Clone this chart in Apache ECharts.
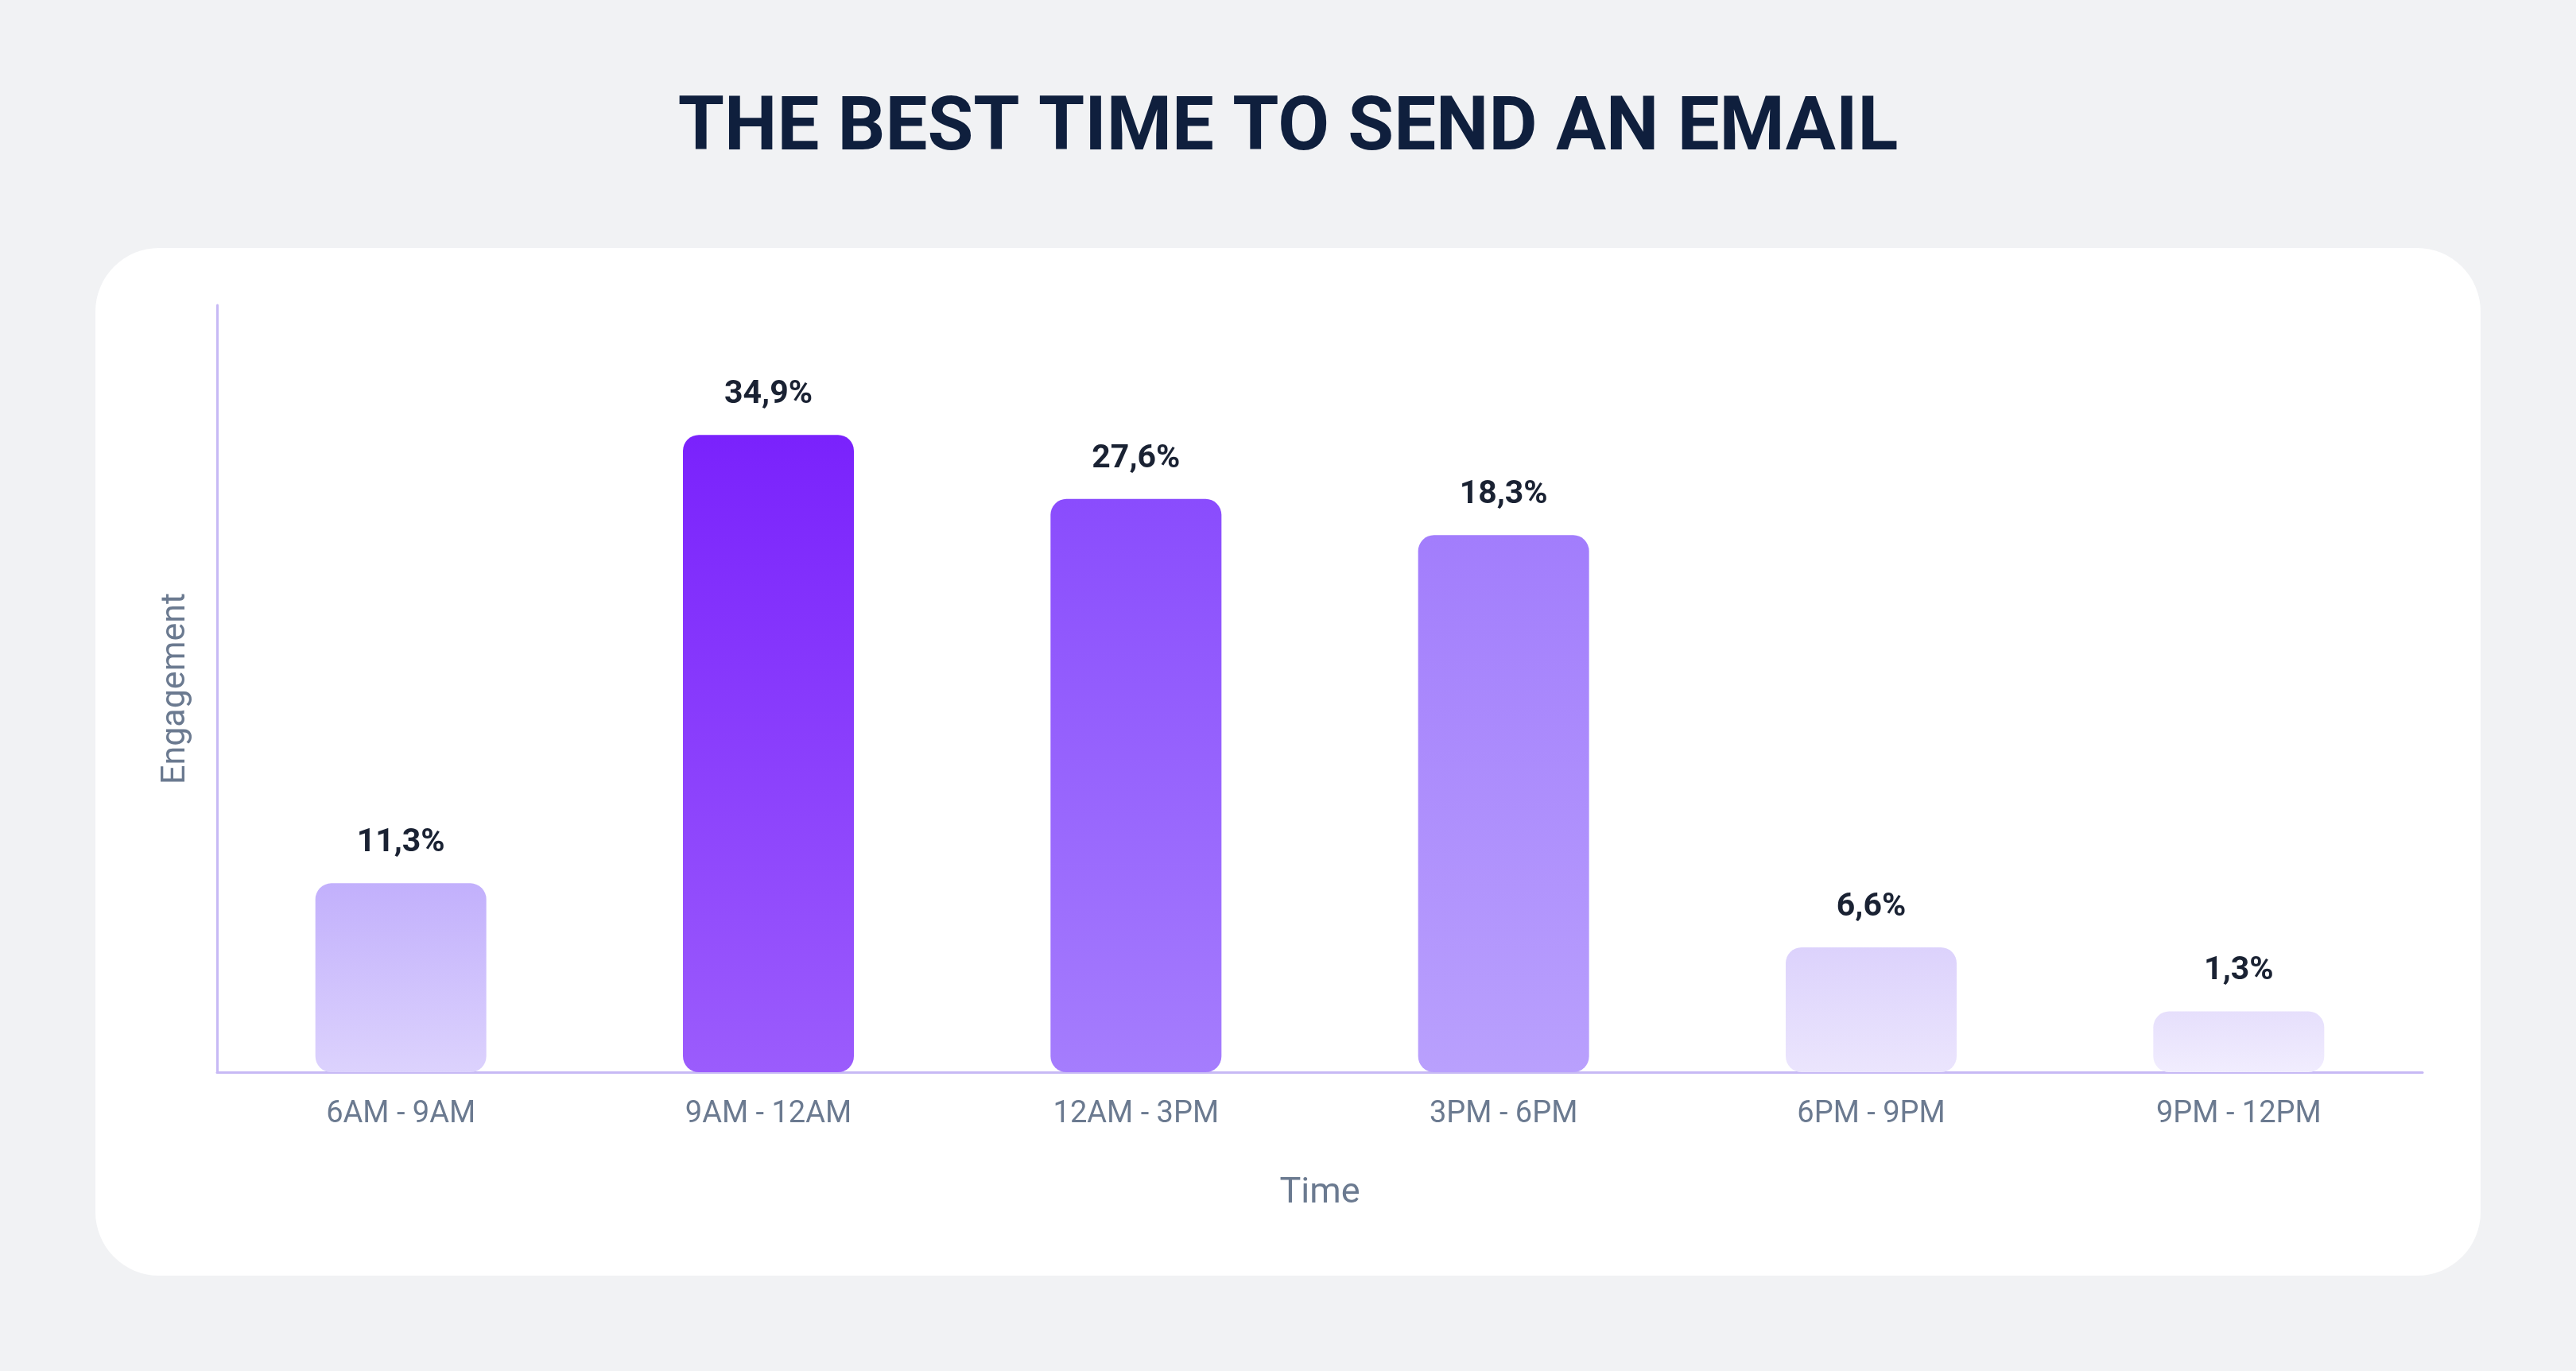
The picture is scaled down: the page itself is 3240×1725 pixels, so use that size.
<!DOCTYPE html>
<html><head><meta charset="utf-8">
<script src="https://cdn.jsdelivr.net/npm/echarts@6/dist/echarts.min.js"></script>
<style>html,body{margin:0;padding:0;background:#f1f2f4}#c{width:3240px;height:1725px}</style>
</head><body><div id="c"></div>
<script>
const categories = ['6AM - 9AM','9AM - 12AM','12AM - 3PM','3PM - 6PM','6PM - 9PM','9PM - 12PM'];
const labelValues = ['11,3%','34,9%','27,6%','18,3%','6,6%','1,3%'];
// bar heights as drawn in the reference (not proportional to labels)
const barHeights = [115, 388, 349, 327, 76, 37];
const topColors = ['#c2b0fc','#7a22fc','#8a4cfd','#a27dfc','#dcd2fc','#e6dffc'];
const bottomColors = ['#dcd2fd','#9b5cfc','#a57dfd','#b9a0fd','#ebe5fd','#f1edfe'];

const chart = echarts.init(document.getElementById('c'));
chart.setOption({
  backgroundColor:'#f1f2f4',
  title:{text:'THE BEST TIME TO SEND AN EMAIL',left:'center',top:112,
    textStyle:{fontFamily:'Roboto',fontWeight:'bold',fontSize:94,color:'#0f1f3d'}},
  graphic:[{type:'rect',z:-10,shape:{x:120,y:312,width:3000,height:1293,r:80},style:{fill:'#ffffff'}}],
  grid:{left:273,right:193,top:384,bottom:376},
  xAxis:{type:'category',data:categories,name:'Time',nameLocation:'middle',nameGap:130,
    nameTextStyle:{fontFamily:'Roboto',fontSize:45,color:'#6b7a90'},
    axisLine:{lineStyle:{color:'#c7b9f5',width:3}},axisTick:{show:false},
    axisLabel:{fontFamily:'Roboto',fontSize:38,color:'#6b7a90',margin:34}},
  yAxis:{type:'value',min:0,max:467,name:'Engagement',nameLocation:'middle',nameGap:30,
    nameTextStyle:{fontFamily:'Roboto',fontSize:43,color:'#6b7a90'},
    axisLine:{show:true,lineStyle:{color:'#c7b9f5',width:3}},axisTick:{show:false},
    axisLabel:{show:false},splitLine:{show:false}},
  series:[{type:'bar',barWidth:215,
    data:barHeights.map((h,i)=>({value:h,itemStyle:{borderRadius:20,
      color:new echarts.graphic.LinearGradient(0,0,0,1,[{offset:0,color:topColors[i]},{offset:1,color:bottomColors[i]}])}})),
    label:{show:true,position:'top',distance:30,formatter:p=>labelValues[p.dataIndex],
      fontFamily:'Roboto',fontWeight:'bold',fontSize:41,color:'#1a2233'}}]
});
</script></body></html>
